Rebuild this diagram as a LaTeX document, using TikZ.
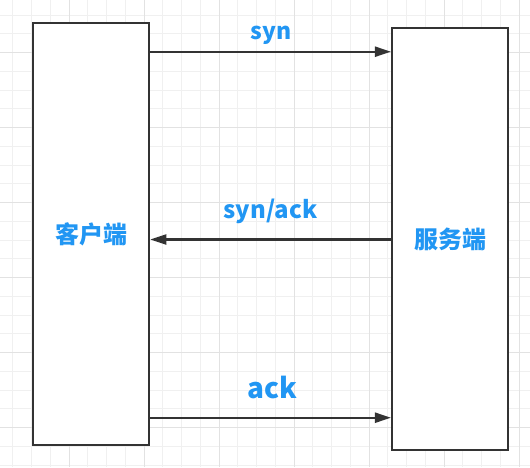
\documentclass[tikz,border=0pt]{standalone}
\usepackage{fontspec}
\newfontfamily\cjk{Noto Sans CJK SC}
\usetikzlibrary{arrows.meta}
\definecolor{minorg}{RGB}{240,240,240}
\definecolor{majorg}{RGB}{226,226,226}
\definecolor{stroke}{RGB}{51,51,51}
\definecolor{lbl}{RGB}{33,150,243}
\tikzset{
  minorline/.style={draw=minorg, line width=1pt},
  majorline/.style={draw=majorg, line width=1pt},
  box/.style={draw=stroke, line width=2.5pt, fill=white, inner sep=0pt,
    minimum width=116pt, minimum height=422.3pt, text=lbl,
    font=\cjk\bfseries\fontsize{24}{28}\selectfont},
  msg/.style={draw=stroke, line width=2.2pt, -{Triangle[length=16pt,width=10pt]}},
  lab/.style={text=lbl, inner sep=0pt, anchor=base}
}
\begin{document}
\begin{tikzpicture}[x=1pt,y=-1pt]
\useasboundingbox (0,0) rectangle (530,467);
\fill[white] (0,0) rectangle (530,467);
\foreach \i in {0,...,28} {
  \draw[minorline] (12.75+18.75*\i,0) -- (12.75+18.75*\i,467);
}
\foreach \i in {0,...,25} {
  \draw[minorline] (0,15.2+18.75*\i) -- (530,15.2+18.75*\i);
}
\foreach \i in {0,...,6} {
  \draw[majorline] (69+75*\i,0) -- (69+75*\i,467);
}
\foreach \i in {0,...,5} {
  \draw[majorline] (0,52.7+75*\i) -- (530,52.7+75*\i);
}
\node[box] (client) at (91,233.9) {客户端};
\node[box] (server) at (450.2,238.9) {服务端};
\coordinate (ysyn) at (0,51.7);
\coordinate (ysa) at (0,239.5);
\coordinate (yack) at (0,417.7);
\draw[msg] (client.east |- ysyn) -- (server.west |- ysyn);
\draw[msg] (server.west |- ysa) -- (client.east |- ysa);
\draw[msg] (client.east |- yack) -- (server.west |- yack);
\node[lab, font=\cjk\bfseries\fontsize{23}{26}\selectfont] (lsyn) at (271,39) {syn};
\node[lab, font=\cjk\bfseries\fontsize{24}{27}\selectfont] (lsa) at (270.5,218) {syn/ack};
\node[lab, font=\cjk\bfseries\fontsize{28}{32}\selectfont] (lack) at (272,398) {ack};
\end{tikzpicture}
\end{document}
